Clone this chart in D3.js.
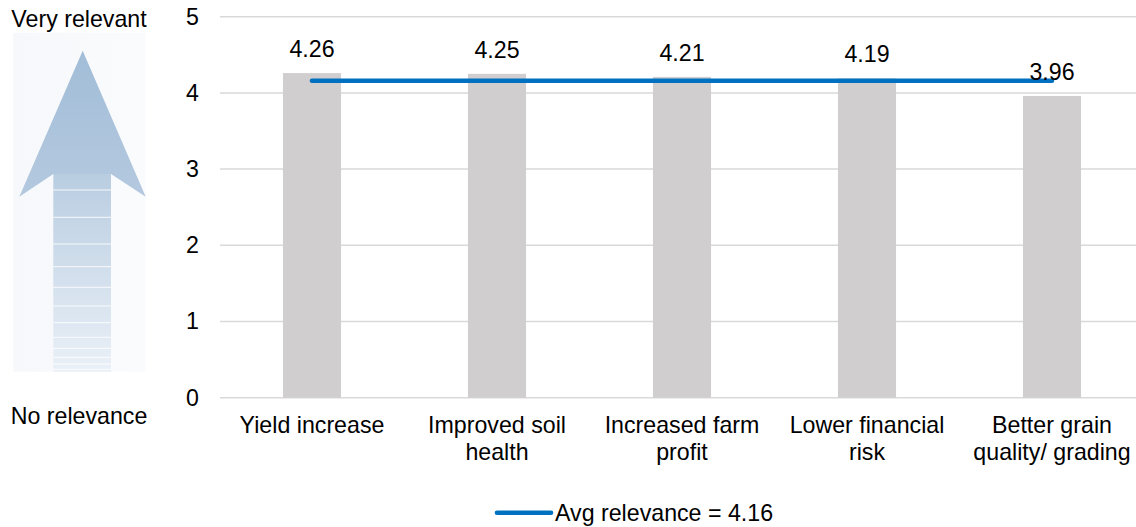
<!DOCTYPE html>
<html>
<head>
<meta charset="utf-8">
<script src="https://cdn.jsdelivr.net/npm/d3@7"></script>
<style>
  html, body { margin: 0; padding: 0; background: #fff; }
  svg { display: block; font-family: "Liberation Sans", Arial, sans-serif; }
</style>
</head>
<body>
<svg id="chart" width="1136" height="527"></svg>
<script>
// Relevance ratings per benefit
const categories = ["Yield increase", "Improved soil health", "Increased farm profit", "Lower financial risk", "Better grain quality/ grading"];
const scores = [4.26, 4.25, 4.21, 4.19, 3.96];
const avgRelevance = 4.16;
const yTicks = [0, 1, 2, 3, 4, 5];
const legendLabel = "Avg relevance = 4.16";
const scaleTop = "Very relevant";
const scaleBottom = "No relevance";

const svg = d3.select("#chart");
const FONT = 23.2;

const x = d3.scaleBand().domain(categories).range([219.5, 1144.5])
  .paddingInner(0.686).paddingOuter(0.343);
const y = d3.scaleLinear().domain([0, 5]).range([397.7, 16.7]);

// gridlines (the zero line shares the same grey)
svg.append("g").selectAll("line").data(yTicks).join("line")
  .attr("x1", 220).attr("x2", 1136)
  .attr("y1", d => y(d)).attr("y2", d => y(d))
  .attr("stroke", "#d9d9d9").attr("stroke-width", 1.5);

// y axis tick labels
const yAxis = d3.axisLeft(y).tickValues(yTicks).tickSize(0).tickPadding(0).tickFormat(d3.format("d"));
const gy = svg.append("g").attr("transform", "translate(199,0)").call(yAxis);
gy.select(".domain").remove();
gy.selectAll("text").attr("font-size", FONT).attr("fill", "#000")
  .attr("font-family", "\"Liberation Sans\", Arial, sans-serif");

// bars
svg.append("g").selectAll("rect").data(scores).join("rect")
  .attr("x", (d, i) => x(categories[i]))
  .attr("y", d => y(d))
  .attr("width", x.bandwidth())
  .attr("height", d => y(0) - y(d))
  .attr("fill", "#d0cece");

// average line from first to last category centre
const cx = c => x(c) + x.bandwidth() / 2;
svg.append("line")
  .attr("x1", cx(categories[0])).attr("x2", cx(categories[categories.length - 1]))
  .attr("y1", y(avgRelevance)).attr("y2", y(avgRelevance))
  .attr("stroke", "#0070c0").attr("stroke-width", 4.6).attr("stroke-linecap", "round");

// value labels
svg.append("g").selectAll("text").data(scores).join("text")
  .attr("x", (d, i) => cx(categories[i]))
  .attr("y", d => y(d) - 16)
  .attr("text-anchor", "middle").attr("font-size", FONT).attr("fill", "#000")
  .text(d => d.toFixed(2));

// category labels, wrapped to the band
function wrapWords(str, maxW) {
  const ctx = document.createElement("canvas").getContext("2d");
  ctx.font = FONT + "px 'Liberation Sans', Arial, sans-serif";
  const words = str.split(" ");
  const lines = [];
  let cur = "";
  words.forEach(w => {
    const t = cur ? cur + " " + w : w;
    if (ctx.measureText(t).width > maxW && cur) { lines.push(cur); cur = w; }
    else cur = t;
  });
  if (cur) lines.push(cur);
  return lines;
}
const catG = svg.append("g").selectAll("text").data(categories).join("text")
  .attr("text-anchor", "middle").attr("font-size", FONT).attr("fill", "#000")
  .attr("x", d => cx(d)).attr("y", 433);
catG.each(function (d) {
  const lines = wrapWords(d, 172);
  d3.select(this).selectAll("tspan").data(lines).join("tspan")
    .attr("x", cx(d)).attr("dy", (l, i) => i === 0 ? 0 : 27).text(l => l);
});

// legend
const lg = svg.append("g").attr("transform", "translate(497,512.7)");
lg.append("line").attr("x1", 0).attr("x2", 54).attr("y1", 0).attr("y2", 0)
  .attr("stroke", "#0070c0").attr("stroke-width", 4.6).attr("stroke-linecap", "round");
lg.append("text").attr("x", 58).attr("y", 7.8).attr("font-size", FONT).attr("fill", "#000").text(legendLabel);

// relevance scale arrow on the left
const defs = svg.append("defs");
const gHead = defs.append("linearGradient").attr("id", "gHead").attr("x1", 0).attr("x2", 0).attr("y1", 0).attr("y2", 1);
gHead.append("stop").attr("offset", "0%").attr("stop-color", "#a2bdd8");
gHead.append("stop").attr("offset", "100%").attr("stop-color", "#b4c9df");
const gShaft = defs.append("linearGradient").attr("id", "gShaft").attr("x1", 0).attr("x2", 0).attr("y1", 0).attr("y2", 1);
gShaft.append("stop").attr("offset", "0%").attr("stop-color", "#b9cde1");
gShaft.append("stop").attr("offset", "100%").attr("stop-color", "#eaf0f7");
const gSide = defs.append("linearGradient").attr("id", "gSide").attr("x1", 0).attr("x2", 1).attr("y1", 0).attr("y2", 0);
gSide.append("stop").attr("offset", "0%").attr("stop-color", "#f6f8fb");
gSide.append("stop").attr("offset", "100%").attr("stop-color", "#fafbfd");

const panel = { x0: 13.3, x1: 145.7, y0: 32.7, y1: 371.7 };
const arrow = { tipX: 82.7, tipY: 50.7, baseY: 196.7, notchY: 174, shaftL: 53.3, shaftR: 111 };
const ag = svg.append("g");
ag.append("rect").attr("x", panel.x0).attr("y", panel.y0)
  .attr("width", panel.x1 - panel.x0).attr("height", panel.y1 - panel.y0).attr("fill", "url(#gSide)");
ag.append("rect").attr("x", arrow.shaftL).attr("y", arrow.notchY)
  .attr("width", arrow.shaftR - arrow.shaftL).attr("height", panel.y1 - arrow.notchY).attr("fill", "url(#gShaft)");
ag.append("path")
  .attr("d", d3.line()([[arrow.tipX, arrow.tipY], [panel.x1, arrow.baseY], [arrow.shaftR, arrow.notchY],
    [arrow.shaftL, arrow.notchY], [panel.x0 + 6, arrow.baseY]]) + "Z")
  .attr("fill", "url(#gHead)");
const stripes = [190, 217.3, 244, 266.7, 287.3, 306, 322.7, 337.3, 348.3, 357.3, 364, 369.3];
ag.selectAll("line.stripe").data(stripes).join("line").attr("class", "stripe")
  .attr("x1", arrow.shaftL).attr("x2", arrow.shaftR).attr("y1", d => d).attr("y2", d => d)
  .attr("stroke", "#ffffff").attr("stroke-width", 1).attr("stroke-opacity", 0.85);

svg.append("text").attr("x", 79).attr("y", 26.7).attr("text-anchor", "middle")
  .attr("font-size", FONT).attr("fill", "#000").text(scaleTop);
svg.append("text").attr("x", 79).attr("y", 424.3).attr("text-anchor", "middle")
  .attr("font-size", FONT).attr("fill", "#000").text(scaleBottom);
</script>
</body>
</html>
